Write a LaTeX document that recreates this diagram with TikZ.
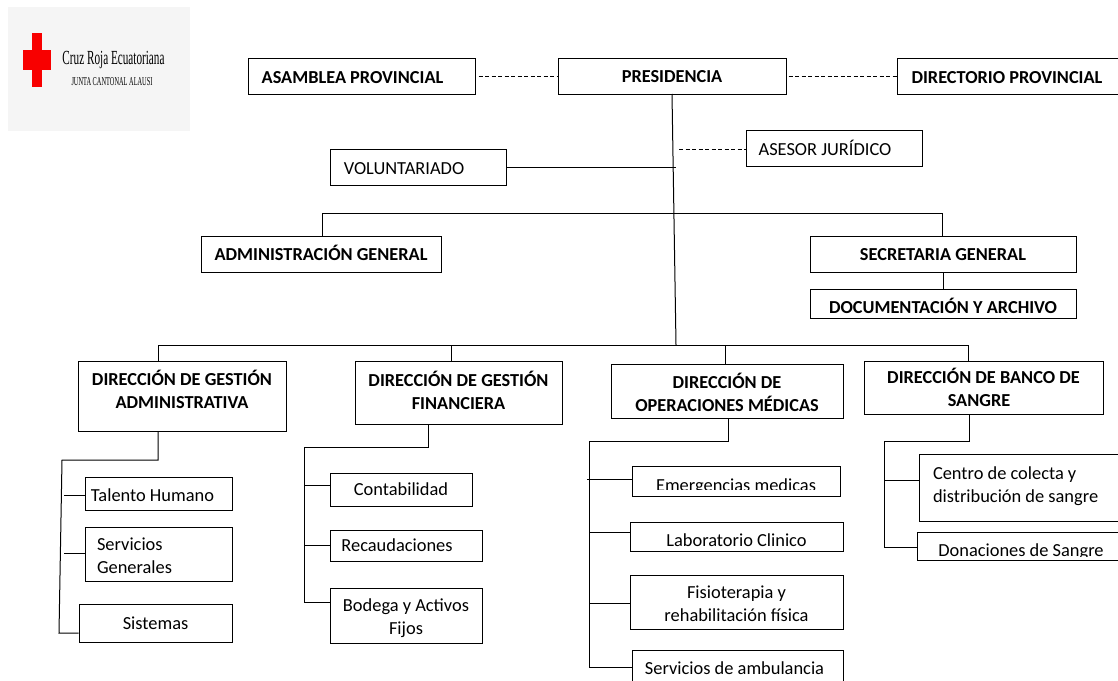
\documentclass[tikz,border=0pt]{standalone}
\usepackage{fontspec}
\setmainfont{Carlito}
\newfontfamily\logofont{Liberation Serif}
\usepackage{xcolor}
\usetikzlibrary{calc}
\definecolor{fondologo}{HTML}{F5F5F5}
\definecolor{rojocruz}{HTML}{F80000}
\newcommand{\sube}[1]{\rule[-#1]{0pt}{0pt}}
\newcommand{\baja}[1]{\rule{0pt}{#1}}
\tikzset{
  caja/.style={draw,line width=1pt,inner sep=0pt,align=center,font=\fontsize{18.4}{23}\selectfont},
  cajab/.style={caja,font=\fontsize{18.3}{23}\selectfont\bfseries},
  linea/.style={line width=1pt},
  guiones/.style={line width=0.9pt,dash pattern=on 4pt off 2.5pt},
  tapa/.style={fill=white,draw=none}
}
\begin{document}
\begin{tikzpicture}[x=1pt,y=-1pt]
  \useasboundingbox (0,0) rectangle (1118,680);
  \fill[fondologo] (8,7) rectangle (190,131);
  \fill[rojocruz] (32,33) rectangle (42,87);
  \fill[rojocruz] (23,50) rectangle (51,70);
  \node[xscale=0.56,font=\logofont\fontsize{20}{22}\selectfont] (logoa) at (113.5,60.5) {Cruz Roja Ecuatoriana};
  \node[xscale=0.53,font=\logofont\fontsize{12}{14}\selectfont] (logob) at (112,82) {JUNTA CANTONAL ALAUSI};

  \node[cajab,minimum width=227pt,minimum height=36pt] (asamblea) at (361.5,76) {\hspace*{-18pt}\baja{15pt}ASAMBLEA PROVINCIAL};
  \node[cajab,minimum width=228pt,minimum height=36pt] (presidencia) at (672,76) {\baja{14pt}PRESIDENCIA};
  \node[cajab,minimum width=224pt,minimum height=36pt] (directorio) at (1009,76) {\hspace*{-4pt}\baja{15pt}DIRECTORIO PROVINCIAL};
  \node[caja,minimum width=176pt,minimum height=36pt] (asesor) at (834,148) {\hspace*{-18pt}ASESOR JURÍDICO};
  \node[caja,minimum width=176pt,minimum height=36pt] (voluntariado) at (418,167) {\hspace*{-28pt}\baja{15pt}VOLUNTARIADO};
  \node[cajab,minimum width=240pt,minimum height=36pt] (admin) at (321,254) {ADMINISTRACIÓN GENERAL\sube{2pt}};
  \node[cajab,minimum width=266pt,minimum height=36pt] (secretaria) at (943,254) {\baja{14pt}SECRETARIA GENERAL};
  \node[cajab,minimum width=266pt,minimum height=29pt,text height=24pt,text depth=4pt] (archivo) at (943,303.5) {DOCUMENTACIÓN Y ARCHIVO};

  \node[cajab,minimum width=208pt,minimum height=70pt] (gadm) at (182,396) {DIRECCIÓN DE GESTIÓN\\ADMINISTRATIVA\sube{14pt}};
  \node[cajab,minimum width=207pt,minimum height=63pt] (gfin) at (458.5,392.5) {DIRECCIÓN DE GESTIÓN\\FINANCIERA\sube{4pt}};
  \node[cajab,minimum width=232pt,minimum height=54pt] (oper) at (727,391) {\baja{19pt}DIRECCIÓN DE\\OPERACIONES MÉDICAS};
  \node[cajab,minimum width=239pt,minimum height=53pt] (banco) at (983.5,387.5) {DIRECCIÓN DE BANCO DE\\\hspace*{-9pt}SANGRE};

  \node[caja,minimum width=147pt,minimum height=33pt] (talento) at (158.5,493.5) {\hspace*{-12pt}\baja{17pt}Talento Humano};
  \node[caja,minimum width=147pt,minimum height=54pt,text width=123pt,align=flush left] (servicios) at (158.5,554) {\baja{16pt}Servicios\\Generales};
  \node[caja,minimum width=153pt,minimum height=38pt] (sistemas) at (155.5,623) {Sistemas};

  \node[caja,minimum width=142pt,minimum height=33pt] (contab) at (401,489.5) {Contabilidad};
  \node[caja,minimum width=152pt,minimum height=31pt] (recaud) at (406,545.5) {\hspace*{-18pt}Recaudaciones};
  \node[caja,minimum width=152pt,minimum height=55pt] (bodega) at (406,615.5) {\baja{19pt}Bodega y Activos\\Fijos};

  \node[caja,minimum width=208pt,minimum height=30pt,text height=24pt,text depth=4pt] (emerg) at (736,481) {Emergencias medicas};
  \fill[tapa] (633,490) rectangle (839,495.4);
  \node[caja,minimum width=213pt,minimum height=29pt,text height=24pt,text depth=4pt] (labo) at (736.5,536.5) {Laboratorio Clinico};
  \node[caja,minimum width=213pt,minimum height=54pt] (fisio) at (736.5,602) {\baja{16.5pt}Fisioterapia y\\rehabilitación física};
  \node[caja,minimum width=211pt,minimum height=40pt,text height=12pt,text depth=3pt] (ambul) at (737.5,670) {\hspace*{-6pt}Servicios de ambulancia};

  \node[caja,minimum width=200pt,minimum height=67pt,text width=172pt,align=flush left] (colecta) at (1019,488) {Centro de colecta y\\distribución de sangre\sube{6pt}};
  \node[caja,minimum width=202pt,minimum height=28.5pt,text height=24pt,text depth=4pt] (donac) at (1018,546.5) {\hspace*{6pt}Donaciones de Sangre};
  \fill[tapa] (918,556.5) rectangle (1118,560.2);

  \draw[guiones] (asamblea.east) ++(3,0) -- (presidencia.west);
  \draw[guiones] (presidencia.east) ++(2,0) -- (directorio.west);
  \coordinate (tronco) at (672,94);
  \coordinate (nudoa) at (676,345);
  \draw[linea] (tronco) -- (nudoa);
  \coordinate (nudoj) at (679,149);
  \draw[guiones] (nudoj) -- (nudoj -| asesor.west);
  \coordinate (nudov) at (676,167);
  \draw[linea] (voluntariado.east) -- (nudov);
  \coordinate (busa) at (322,213);
  \coordinate (busb) at (942,213);
  \draw[linea] (admin.north -| busa) -- (busa) -- (busb) -- (secretaria.north -| busb);
  \draw[linea] (secretaria.south) -- (archivo.north);

  \coordinate (bajaa) at (158,345);
  \coordinate (bajab) at (451,345);
  \coordinate (bajac) at (725,345);
  \coordinate (bajad) at (968,345);
  \draw[linea] (bajaa) -- (bajad);
  \foreach \b/\d in {bajaa/gadm,bajab/gfin,bajac/oper,bajad/banco}
    \draw[linea] (\b) -- (\b |- \d.north);

  \coordinate (sala) at (158,431);
  \coordinate (ejea) at (62,460);
  \coordinate (ejeb) at (59,633);
  \draw[linea] (sala) -- (sala |- ejea) -- (ejea) -- (ejeb) -- (ejeb -| sistemas.west);
  \draw[linea] (64,495) -- (64,495 -| talento.west);
  \draw[linea] (64,553) -- (64,553 -| servicios.west);

  \coordinate (salb) at (428,424);
  \coordinate (ejec) at (304,447);
  \coordinate (ejed) at (304,602);
  \draw[linea] (salb) -- (salb |- ejec) -- (ejec) -- (ejed) -- (ejed -| bodega.west);
  \draw[linea] (304,485) -- (304,485 -| contab.west);
  \draw[linea] (304,545) -- (304,545 -| recaud.west);

  \coordinate (salc) at (728,418);
  \coordinate (ejee) at (589,441);
  \coordinate (ejef) at (589,667);
  \draw[linea] (salc) -- (salc |- ejee) -- (ejee) -- (ejef) -- (ejef -| ambul.west);
  \draw[linea] (587,479) -- (587,479 -| emerg.west);
  \draw[linea] (589,532) -- (589,532 -| labo.west);
  \draw[linea] (589,603) -- (589,603 -| fisio.west);

  \coordinate (sald) at (969,414);
  \coordinate (ejeg) at (884,441);
  \coordinate (ejeh) at (884,547);
  \draw[linea] (sald) -- (sald |- ejeg) -- (ejeg) -- (ejeh) -- (ejeh -| donac.west);
  \draw[linea] (884,480) -- (884,480 -| colecta.west);
\end{tikzpicture}
\end{document}
